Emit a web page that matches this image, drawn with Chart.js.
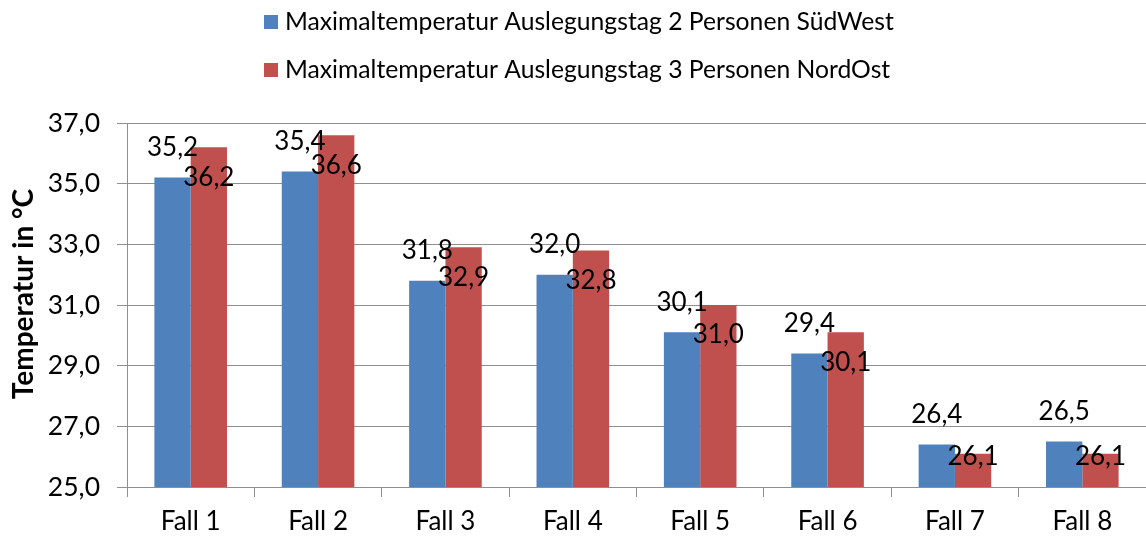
<!DOCTYPE html>
<html><head><meta charset="utf-8">
<script src="https://cdn.jsdelivr.net/npm/chart.js@4.4.0/dist/chart.umd.min.js"></script>
<style>html,body{margin:0;padding:0;background:#fff;} canvas{display:block;}</style>
</head><body>
<div style="width:1146px;height:538px;"><canvas id="c" width="1146" height="538"></canvas></div>
<script>
const categories = ['Fall 1', 'Fall 2', 'Fall 3', 'Fall 4', 'Fall 5', 'Fall 6', 'Fall 7', 'Fall 8'];
const seriesNames = ['Maximaltemperatur Auslegungstag 2 Personen SüdWest', 'Maximaltemperatur Auslegungstag 3 Personen NordOst'];
const southWest = [35.2, 35.4, 31.8, 32.0, 30.1, 29.4, 26.4, 26.5];
const northEast = [36.2, 36.6, 32.9, 32.8, 31.0, 30.1, 26.1, 26.1];
const yMin = 25, yMax = 37, yStep = 2;
const yAxisTitle = 'Temperatur in °C';
const seriesColors = ['#4F81BD', '#C0504D'];

const FONT = 'Lato';
const fmt = v => Number(v).toFixed(1).replace('.', ',');
Chart.defaults.font.family = FONT;
Chart.defaults.color = '#000';

const gridColor = '#8f8f8f';

const labelsPlugin = {
  id: 'valueLabels',
  afterDatasetsDraw(chart) {
    const ctx = chart.ctx;
    const basePx = chart.scales.y.getPixelForValue(yMin);
    ctx.save();
    ctx.font = '26px ' + FONT;
    ctx.fillStyle = '#000';
    ctx.textAlign = 'center';
    ctx.textBaseline = 'middle';
    chart.data.datasets.forEach((ds, di) => {
      const meta = chart.getDatasetMeta(di);
      meta.data.forEach((el, i) => {
        const top = el.y;
        let cy;
        if (di === 0) cy = top - 30;
        else cy = Math.min(top + 30, basePx - 30);
        ctx.fillText(fmt(ds.data[i]), el.x, cy);
      });
    });
    ctx.restore();
  }
};

const legendPlugin = {
  id: 'customLegend',
  afterDraw(chart) {
    const ctx = chart.ctx;
    ctx.save();
    ctx.font = '24.7px ' + FONT;
    ctx.textBaseline = 'middle';
    ctx.textAlign = 'left';
    const rows = [22, 70];
    chart.data.datasets.forEach((ds, di) => {
      const y = rows[di];
      ctx.fillStyle = ds.backgroundColor;
      ctx.fillRect(264, y - 7, 14, 14);
      ctx.fillStyle = '#000';
      ctx.fillText(ds.label, 285, y);
    });
    // y axis title
    ctx.translate(24, 294);
    ctx.rotate(-Math.PI / 2);
    ctx.font = 'bold 28px ' + FONT;
    ctx.textAlign = 'center';
    ctx.fillText(yAxisTitle, 0, 0);
    ctx.restore();
  }
};

new Chart(document.getElementById('c'), {
  type: 'bar',
  data: {
    labels: categories,
    datasets: [
      { label: seriesNames[0], data: southWest, backgroundColor: seriesColors[0], borderWidth: 0 },
      { label: seriesNames[1], data: northEast, backgroundColor: seriesColors[1], borderWidth: 0 }
    ]
  },
  options: {
    responsive: false,
    animation: false,
    events: [],
    layout: { padding: { top: 123, left: 0, right: 0, bottom: 0 } },
    categoryPercentage: 0.57,
    barPercentage: 1.0,
    plugins: { legend: { display: false }, tooltip: { enabled: false }, title: { display: false } },
    scales: {
      x: {
        offset: true,
        grid: { display: true, offset: true, drawOnChartArea: false, drawTicks: true, tickLength: 10, color: gridColor },
        border: { display: true, color: gridColor },
        ticks: { font: { size: 26 }, color: '#000', padding: 9, maxRotation: 0 },
        afterFit: s => { s.height = 51; }
      },
      y: {
        min: yMin, max: yMax,
        grid: { color: gridColor, drawTicks: true, tickLength: 10 },
        border: { display: true, color: gridColor },
        ticks: { stepSize: yStep, font: { size: 26.5 }, color: '#000', padding: 17, callback: v => fmt(v) },
        afterFit: s => { s.width = 127; }
      }
    }
  },
  plugins: [labelsPlugin, legendPlugin]
});
</script>
</body></html>
